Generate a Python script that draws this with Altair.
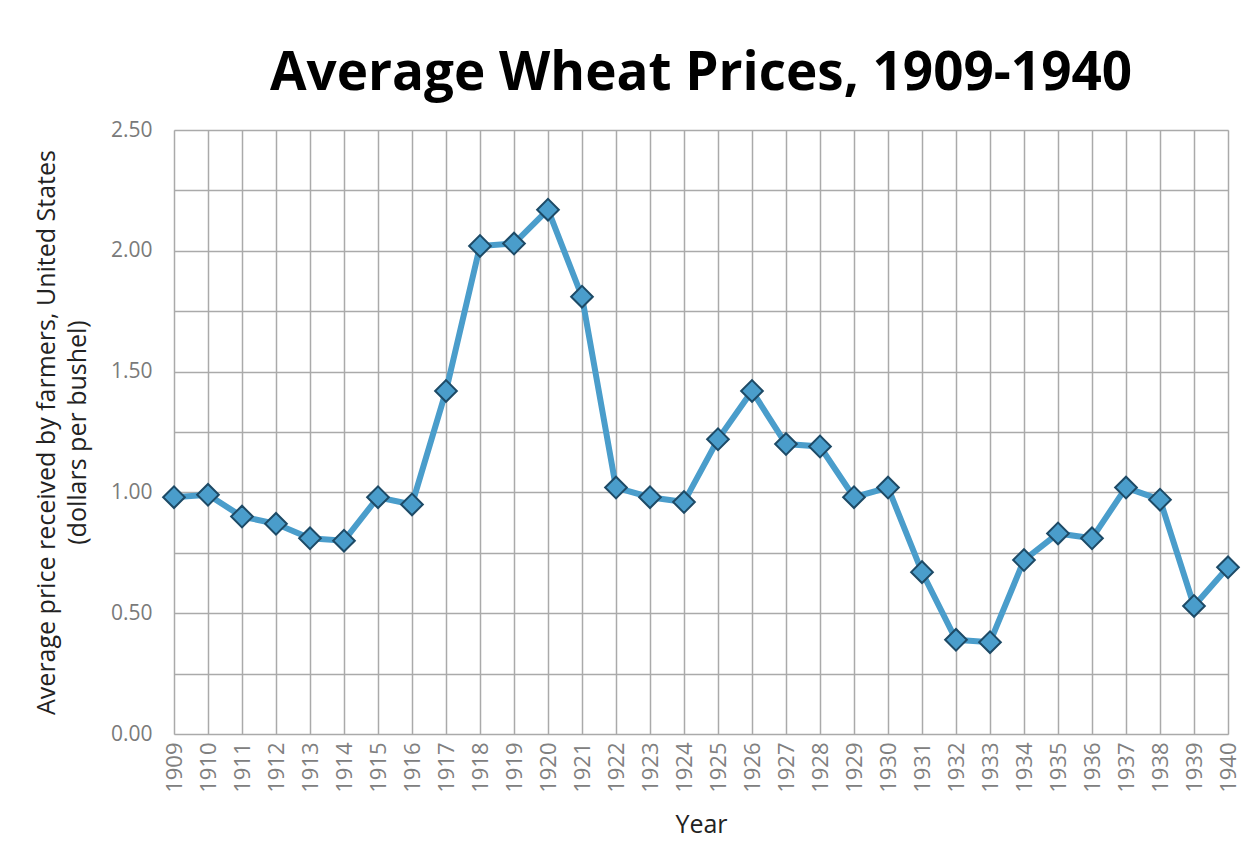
import altair as alt
import pandas as pd

years = list(range(1909, 1941))
prices = [0.98, 0.99, 0.90, 0.87, 0.81, 0.80, 0.98, 0.95, 1.42, 2.02, 2.03, 2.17,
          1.81, 1.02, 0.98, 0.96, 1.22, 1.42, 1.20, 1.19, 0.98, 1.02, 0.67, 0.39,
          0.38, 0.72, 0.83, 0.81, 1.02, 0.97, 0.53, 0.69]
y_grid = [0, 0.25, 0.5, 0.75, 1.0, 1.25, 1.5, 1.75, 2.0, 2.25, 2.5]

df = pd.DataFrame({"Year": years, "Price": prices})

FONT = "Open Sans"
LINE = "#4a9dcb"

x = alt.X("Year:Q",
          scale=alt.Scale(domain=[1909, 1940], nice=False, zero=False),
          axis=alt.Axis(values=years, format="d", labelAngle=-90, labelAlign="right",
                        labelBaseline="middle", labelFontSize=22, labelColor="#808080",
                        labelFont=FONT, labelPadding=8, ticks=False, domain=False,
                        grid=True, gridColor="#aaaaaa", gridWidth=1.5,
                        title="Year", titleFont=FONT, titleFontSize=25,
                        titleFontWeight="normal", titleColor="#222222", titlePadding=20,
                        labelOverlap=False, labelBound=False))
y = alt.Y("Price:Q",
          scale=alt.Scale(domain=[0, 2.5], nice=False),
          axis=alt.Axis(values=y_grid, labelExpr="datum.value % 0.5 == 0 ? format(datum.value, '.2f') : ''",
                        labelFontSize=21, labelColor="#7a7a7a", labelFont=FONT,
                        labelFontWeight="normal", labelPadding=22, ticks=False, domain=False,
                        grid=True, gridColor="#aaaaaa", gridWidth=1.5,
                        title=["Average price received by farmers, United States",
                               "(dollars per bushel)"],
                        titleFont=FONT, titleFontSize=25, titleFontWeight="normal",
                        titleColor="#222222", titlePadding=20, titleLineHeight=31))

base = alt.Chart(df)
line = base.mark_line(color=LINE, strokeWidth=6).encode(x=x, y=y)
pts = base.mark_point(shape="diamond", filled=True, size=470, fill=LINE,
                      stroke="#1d4a66", strokeWidth=2, opacity=1).encode(x=x, y=y)

chart = (line + pts).properties(
    width=1054, height=604,
    title=alt.TitleParams("Average Wheat Prices, 1909-1940", font=FONT, fontSize=53,
                          fontWeight="bold", color="#000000", anchor="middle", offset=18),
    padding={"left": 166, "top": 122, "right": 20, "bottom": 112},
    autosize=alt.AutoSizeParams(type="none"),
).configure_view(stroke="#8c8c8c", strokeWidth=2).configure(background="white")

chart.save("out.html", embed_options={"renderer": "svg", "actions": False})
